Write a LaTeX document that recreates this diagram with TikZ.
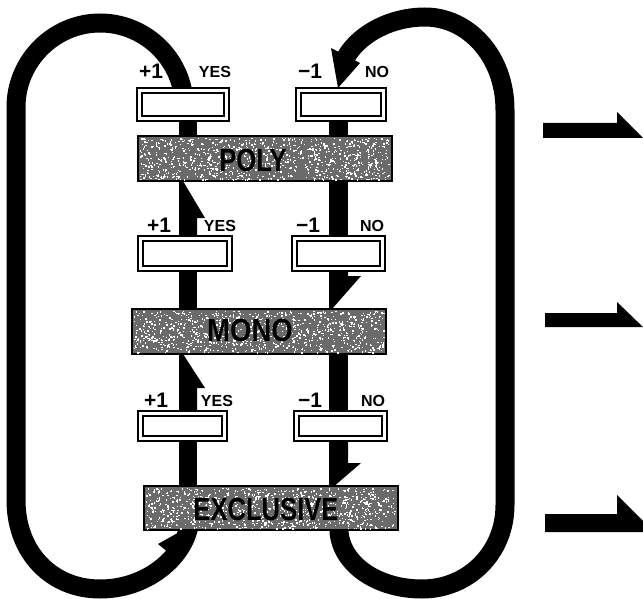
\documentclass[tikz,border=0pt]{standalone}
\usepackage{fontspec}
\setmainfont{Liberation Sans}
\begin{document}
\begin{tikzpicture}[x=1pt,y=-1pt,
  band/.style={line width=19pt, draw=black},
  smallbox/.style={draw=black, fill=white, line width=2.4pt, double=white, double distance=2.2pt, inner sep=0pt},
  bar/.style={draw=black, fill=black!58, line width=2pt, inner sep=0pt, minimum width=254pt, minimum height=45pt},
  speck/.style={fill=white},
  lbl/.style={font=\bfseries\fontsize{21}{21}\selectfont, inner sep=0pt},
  yn/.style={font=\bfseries\fontsize{16}{16}\selectfont, inner sep=0pt},
  bartext/.style={font=\bfseries\fontsize{32}{32}\selectfont, inner sep=0pt},
]
\useasboundingbox (0,0) rectangle (643,599);
\fill[white] (0,0) rectangle (643,599);

% left loop (YES side, flowing upward)
\draw[band] (185,100) -- (182,88) .. controls (173,50) and (139,23) .. (100,23)
  .. controls (54,23) and (16,61) .. (16,107) -- (16,500)
  .. controls (16,553) and (52,589) .. (100,589)
  .. controls (145,589) and (180,560) .. (188,530) -- (191,519);
\fill (158,544) -- (183,530) -- (174,557) -- cycle;

% right loop (NO side, flowing downward)
\draw[band] (339,520) -- (339,532) .. controls (342,565) and (378,589) .. (422,589)
  .. controls (468,589) and (505,553) .. (505,505) -- (505,110)
  .. controls (505,56) and (468,17) .. (425,17)
  .. controls (392,17) and (360,33) .. (346,57);
\fill (331,48) -- (360,63) -- (338,88) -- cycle;

% left column
\fill (179,118) rectangle (197,140);
\fill (179,181) -- (183,181) -- (205,218) -- (197,218) -- (197,240) -- (179,240) -- cycle;
\fill (179,268) rectangle (197,312);
\fill (179,354) -- (183,354) -- (205,388) -- (197,388) -- (197,414) -- (179,414) -- cycle;
\fill (179,438) rectangle (197,490);

% right column
\fill (329,118) rectangle (348,140);
\fill (329,178) rectangle (348,240);
\fill (329,268) -- (348,268) -- (348,276) -- (361,276) -- (332,309) -- (329,309) -- cycle;
\fill (329,350) rectangle (348,414);
\fill (329,438) -- (348,438) -- (348,463) -- (361,463) -- (332,488) -- (329,488) -- cycle;

% small boxes
\node[smallbox, minimum width=87pt, minimum height=28pt] (yes1) at (183,104.5) {};
\node[smallbox, minimum width=85pt, minimum height=28pt] (no1) at (341,104.5) {};
\node[smallbox, minimum width=89pt, minimum height=30pt] (yes2) at (185,253.5) {};
\node[smallbox, minimum width=88pt, minimum height=30pt] (no2) at (338.5,253.5) {};
\node[smallbox, minimum width=84pt, minimum height=25pt] (yes3) at (182.5,426) {};
\node[smallbox, minimum width=88pt, minimum height=25pt] (no3) at (340.5,426) {};

% bars with halftone speckle
\node[bar] (poly) at (265,158.5) {};
\node[bar] (mono) at (259,331.5) {};
\node[bar, minimum height=44pt] (excl) at (270.5,508) {};
\pgfmathsetseed{11}
\foreach \i in {1,...,900}{
  \fill[speck] ({139.5+250*rnd},{137.5+42*rnd}) rectangle +(1.4,1.4);
  \fill[speck] ({133.5+250*rnd},{310.5+42*rnd}) rectangle +(1.4,1.4);
  \fill[speck] ({145.5+249*rnd},{487.5+41*rnd}) rectangle +(1.4,1.4);
}
\node[bartext] (tpoly) at (253,160) {\scalebox{0.8}[1]{POLY}};
\node[bartext] (tmono) at (250,330) {\scalebox{0.86}[1]{MONO}};
\node[bartext] (texcl) at (266,509) {\scalebox{0.8}[1]{EXCLUSIVE}};

% labels
\node[lbl] (p1) at (151,71) {+1};
\node[yn]  (y1) at (215,72) {YES};
\node[lbl] (m1) at (310,71) {−1};
\node[yn]  (n1) at (377,72) {NO};
\node[lbl] (p2) at (159,225) {+1};
\node[yn]  (y2) at (220,226) {YES};
\node[lbl] (m2) at (308,225) {−1};
\node[yn]  (n2) at (372,226) {NO};
\node[lbl] (p3) at (156,400) {+1};
\node[yn]  (y3) at (217,401) {YES};
\node[lbl] (m3) at (310,400) {−1};
\node[yn]  (n3) at (373,401) {NO};

% output arrows on the right
\fill (543,123) -- (617,123) -- (617,112) -- (643,138) -- (543,138) -- cycle;
\fill (545,313) -- (617,313) -- (617,302) -- (643,327) -- (545,327) -- cycle;
\fill (545,514) -- (617,514) -- (617,495) -- (643,521) -- (643,532) -- (545,532) -- cycle;
\end{tikzpicture}
\end{document}
